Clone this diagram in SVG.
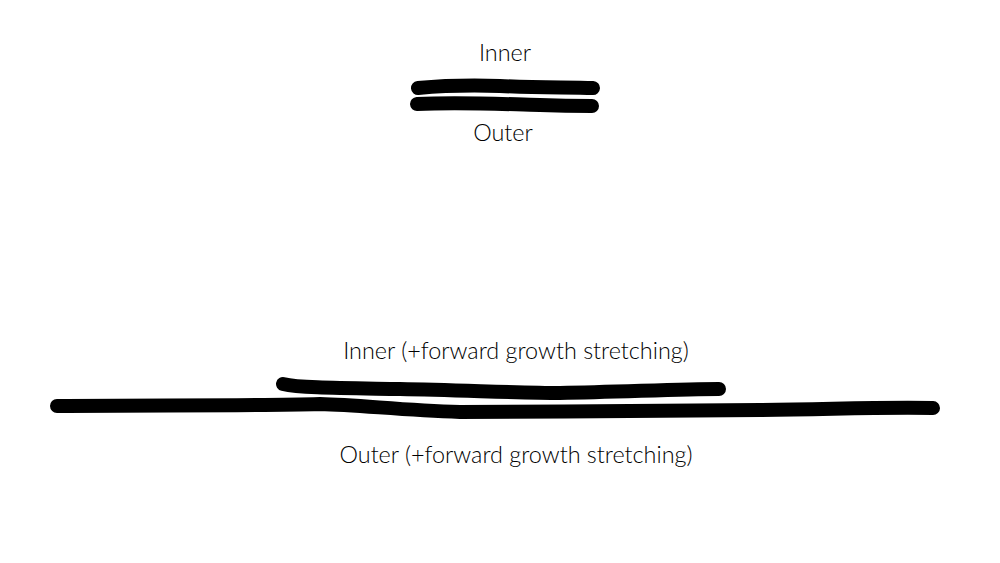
<svg xmlns="http://www.w3.org/2000/svg" width="1000" height="563" viewBox="0 0 1000 563">
<style>
.lbl{font-family:Lato,"Liberation Sans",sans-serif;font-size:23.4px;font-weight:300;fill:#000;text-anchor:middle}
.stroke{fill:none;stroke:#000;stroke-width:14;stroke-linecap:round;stroke-linejoin:round}
</style>
<rect width="1000" height="563" fill="#fff"/>
<g id="top-inner">
<text class="lbl" x="505" y="61">Inner</text>
<path class="stroke" d="M418,88 C440,86 470,85 500,86 C540,88 570,87 593,88"/>
</g>
<g id="top-outer">
<path class="stroke" d="M417,104 C460,102 500,104 540,105 C565,106 580,106 592,106"/>
<text class="lbl" x="503" y="141">Outer</text>
</g>
<g id="bottom-inner">
<text class="lbl" x="516" y="359">Inner (+forward growth stretching)</text>
<path class="stroke" d="M283,384 C300,388 340,388 400,389 C460,390 520,393 560,393 C620,392 680,389 719,389"/>
</g>
<g id="bottom-outer">
<path class="stroke" d="M57,406 C150,405 250,406 320,404 C360,405 400,410 460,412 C560,412 680,410 760,410 C840,409 880,407 933,408"/>
<text class="lbl" x="516" y="463">Outer (+forward growth stretching)</text>
</g>
</svg>
